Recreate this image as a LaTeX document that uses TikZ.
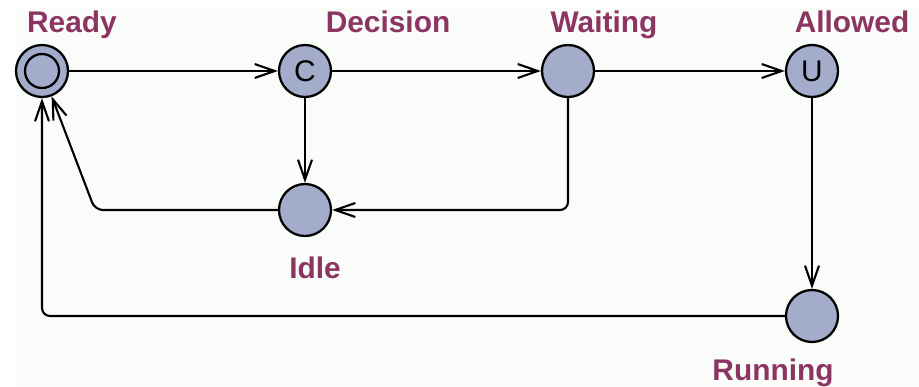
\documentclass[tikz,border=0pt]{standalone}
\usepackage{fontspec}
\setmainfont{Liberation Sans}
\usetikzlibrary{arrows.meta}
\definecolor{locfill}{RGB}{163,173,203}
\definecolor{locname}{RGB}{140,52,98}
\definecolor{paper}{RGB}{250,252,250}
\begin{document}
\begin{tikzpicture}[x=0.02cm, y=-0.02cm,
		loc/.style={circle, fill=locfill, line width=1.3pt, draw=black, minimum size=1.04cm, inner sep=0pt, font=\fontsize{17}{17}\selectfont},
		locname/.style={anchor=base, text=locname, font=\fontsize{17}{17}\selectfont\bfseries},
		edge/.style={-{Straight Barb[length=0.4cm, width=0.28cm]}, line width=1.2pt, rounded corners=0.16cm}]
		\useasboundingbox (0,0) rectangle (919,386);
		\fill[paper] (16,8) rectangle (919,386);
		\node[loc](ready) at (42,71){};
		\node[loc](decision) at (305,71){C};
		\node[loc](waiting) at (568,71){};
		\node[loc](allowed) at (812,71){\raisebox{-2pt}{U}};
		\node[loc](idle) at (305,210){};
		\node[loc](running) at (812,316){};
		\draw[line width=1.3pt] (ready.center) circle (0.34cm);
		\node[locname](readyname) at (72,32){Ready};
		\node[locname](decisionname) at (388,32){Decision};
		\node[locname](waitingname) at (604,32){Waiting};
		\node[locname](allowedname) at (852,32){Allowed};
		\node[locname](idlename) at (315,278){Idle};
		\node[locname](runningname) at (773,380){Running};
		\draw[edge] (ready) -- (decision);
		\draw[edge] (decision) -- (waiting);
		\draw[edge] (waiting) -- (allowed);
		\draw[edge] (decision) -- (idle);
		\draw[edge] (allowed) -- (running);
		\draw[edge] (waiting) |- (idle);
		\draw[edge] (idle) -- ++(-210,0) -- (ready);
		\draw[edge] (running) -| (ready);
	\end{tikzpicture}
\end{document}
